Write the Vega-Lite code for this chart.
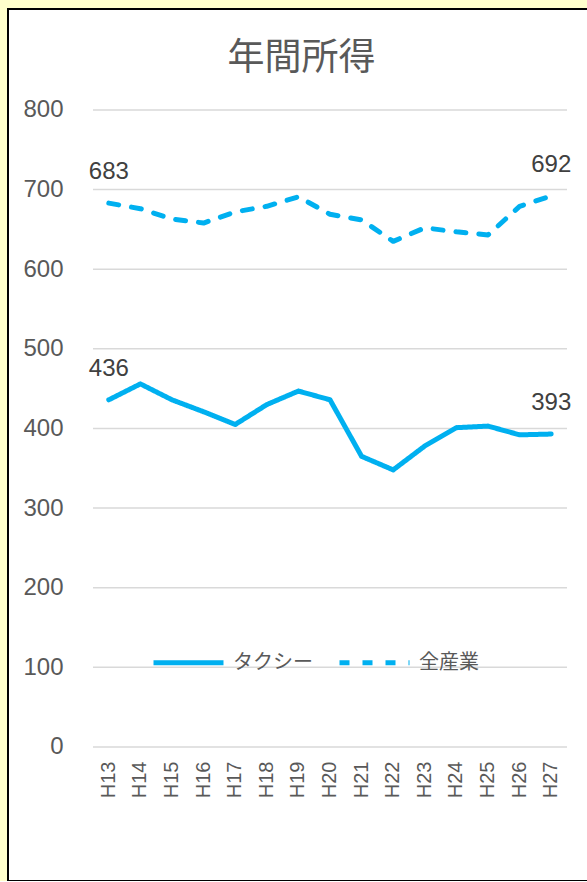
{
  "$schema": "https://vega.github.io/schema/vega-lite/v6.json",
  "autosize": {"type": "none"},
  "width": 581,
  "height": 872,
  "padding": {"left": 8, "top": 9, "right": 0, "bottom": 0},
  "background": "#FFFFCC",
  "view": {"fill": "#FFFFFF", "stroke": "#000000", "strokeWidth": 2},
  "title": {"text": "年間所得", "font": "Noto Sans CJK JP", "fontSize": 37, "fontWeight": "normal", "color": "#595959", "anchor": "middle", "frame": "group", "baseline": "middle", "offset": 0, "dy": 87, "dx": 3},
  "datasets": {
    "income": [
      {"year": "H13", "series": "タクシー", "value": 436},
      {"year": "H14", "series": "タクシー", "value": 456},
      {"year": "H15", "series": "タクシー", "value": 436},
      {"year": "H16", "series": "タクシー", "value": 421},
      {"year": "H17", "series": "タクシー", "value": 405},
      {"year": "H18", "series": "タクシー", "value": 430},
      {"year": "H19", "series": "タクシー", "value": 447},
      {"year": "H20", "series": "タクシー", "value": 436},
      {"year": "H21", "series": "タクシー", "value": 365},
      {"year": "H22", "series": "タクシー", "value": 348},
      {"year": "H23", "series": "タクシー", "value": 378},
      {"year": "H24", "series": "タクシー", "value": 401},
      {"year": "H25", "series": "タクシー", "value": 403},
      {"year": "H26", "series": "タクシー", "value": 392},
      {"year": "H27", "series": "タクシー", "value": 393},
      {"year": "H13", "series": "全産業", "value": 683},
      {"year": "H14", "series": "全産業", "value": 676},
      {"year": "H15", "series": "全産業", "value": 663},
      {"year": "H16", "series": "全産業", "value": 658},
      {"year": "H17", "series": "全産業", "value": 672},
      {"year": "H18", "series": "全産業", "value": 679},
      {"year": "H19", "series": "全産業", "value": 691},
      {"year": "H20", "series": "全産業", "value": 669},
      {"year": "H21", "series": "全産業", "value": 662},
      {"year": "H22", "series": "全産業", "value": 635},
      {"year": "H23", "series": "全産業", "value": 652},
      {"year": "H24", "series": "全産業", "value": 647},
      {"year": "H25", "series": "全産業", "value": 643},
      {"year": "H26", "series": "全産業", "value": 679},
      {"year": "H27", "series": "全産業", "value": 692}
    ],
    "grid": [
      {"value": 0}, {"value": 100}, {"value": 200}, {"value": 300}, {"value": 400},
      {"value": 500}, {"value": 600}, {"value": 700}, {"value": 800}
    ]
  },
  "layer": [
    {
      "data": {"name": "grid"},
      "mark": {"type": "rule", "color": "#D9D9D9", "strokeWidth": 1.5},
      "encoding": {
        "x": {"datum": "H13", "type": "nominal", "bandPosition": 0,
              "scale": {"type": "band", "domain": ["H13","H14","H15","H16","H17","H18","H19","H20","H21","H22","H23","H24","H25","H26","H27"], "paddingInner": 0, "paddingOuter": 0, "range": [85, 559]},
              "axis": {"title": null, "labelAngle": -90, "offset": -120}},
        "x2": {"datum": "H27", "bandPosition": 1},
        "y": {"field": "value", "type": "quantitative",
              "scale": {"domain": [-168.3, 926.8], "nice": false, "zero": false},
              "axis": {"title": null, "values": [0,100,200,300,400,500,600,700,800], "offset": -55}}
      }
    },
    {
      "data": {"name": "income"},
      "mark": {"type": "line", "strokeWidth": 5, "strokeCap": "round", "strokeJoin": "round"},
      "encoding": {
        "x": {"field": "year", "type": "nominal", "axis": {"title": null, "labelAngle": -90, "offset": -120}},
        "y": {"field": "value", "type": "quantitative", "axis": {"title": null, "values": [0,100,200,300,400,500,600,700,800], "offset": -55}},
        "color": {"field": "series", "type": "nominal",
                  "scale": {"domain": ["タクシー", "全産業"], "range": ["#00B0F0", "#00B0F0"]},
                  "legend": {"title": null}},
        "strokeDash": {"field": "series", "type": "nominal",
                  "scale": {"domain": ["タクシー", "全産業"], "range": [[1, 0], [10, 13]]},
                  "legend": {"title": null}}
      }
    },
    {
      "data": {"name": "income"},
      "transform": [{"filter": {"field": "year", "oneOf": ["H13", "H27"]}}],
      "mark": {"type": "text", "dy": -31, "fontSize": 24, "font": "Liberation Sans", "color": "#404040"},
      "encoding": {
        "x": {"field": "year", "type": "nominal", "axis": {"title": null, "labelAngle": -90, "offset": -120}},
        "y": {"field": "value", "type": "quantitative", "axis": {"title": null, "values": [0,100,200,300,400,500,600,700,800], "offset": -55}},
        "text": {"field": "value", "type": "quantitative"}
      }
    }
  ],
  "config": {
    "axis": {"labelFont": "Liberation Sans", "labelColor": "#595959", "domain": false, "ticks": false, "tickSize": 0, "grid": false, "labelPadding": 0},
    "axisY": {"labelFontSize": 24},
    "axisX": {"labelFontSize": 20},
    "legend": {"orient": "none", "legendX": 143, "legendY": 616, "direction": "horizontal", "symbolType": "stroke", "symbolSize": 4900, "symbolStrokeWidth": 5, "labelFontSize": 20, "labelFont": "Noto Sans CJK JP", "labelColor": "#595959", "columnPadding": 16, "labelOffset": 7, "padding": 0}
  }
}
